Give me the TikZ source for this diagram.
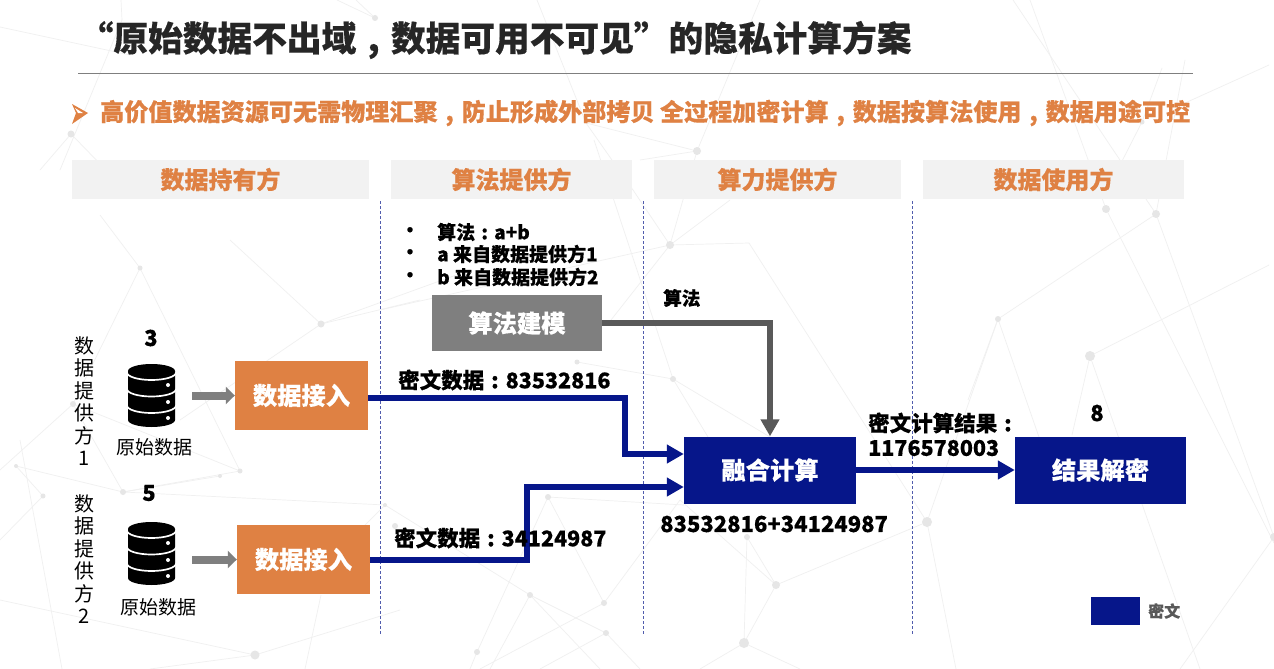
\documentclass[tikz,border=0pt]{standalone}
\usepackage{fontspec}
\setmainfont{Noto Sans CJK SC}[BoldFeatures={FakeBold=0.35}]
\usetikzlibrary{arrows.meta}
\definecolor{cblue}{HTML}{06168A}
\definecolor{corange}{HTML}{DF8143}
\definecolor{cgray}{HTML}{7F7F7F}
\definecolor{cdark}{HTML}{595959}
\definecolor{chead}{HTML}{F2F2F2}
\definecolor{cnet}{HTML}{F0F0F0}
\definecolor{cdot}{HTML}{E6E6E6}
\newcommand{\fs}[1]{\fontsize{#1}{#1}\selectfont}
\newcommand{\cc}{\makebox[1em]{:}}
\newcommand{\cm}{\makebox[1em]{,}}
\tikzset{
  box/.style={draw=none,minimum height=#1,inner sep=0pt,text=white,font=\fs{24.3}\bfseries},
  headbox/.style={fill=chead,inner sep=0pt,minimum height=39pt,text=corange,font=\fs{24}\bfseries},
  lab/.style={inner sep=0pt,font=\fs{21.5}\bfseries,anchor=west},
  reg/.style={inner sep=0pt,font=\fs{19}},
  num/.style={inner sep=0pt,font=\fs{22}\bfseries},
  vert/.style={inner sep=0pt,font=\fs{20},align=center},
  sep/.style={cblue!70,line width=0.6pt,densely dashed},
  flow/.style={cblue,line width=6pt,-{Triangle[length=17pt,width=18pt]}},
  algo/.style={cdark,line width=6pt,-{Triangle[length=17pt,width=18pt]}},
  feed/.style={cgray,line width=8pt,-{Triangle[length=9pt,width=17pt]}},
  netl/.style={cnet,line width=0.7pt},
  netd/.style={cdot,fill=cdot,draw=none},
  pics/dbstack/.style={code={
    \fill[black] (0,7) arc[x radius=23.5pt,y radius=7pt,start angle=180,end angle=0]
       -- (47,56) arc[x radius=23.5pt,y radius=7pt,start angle=0,end angle=-180] -- cycle;
    \foreach \yy in {8.5,25,41.5}{
      \draw[white,line width=1.7pt] (-1,\yy) arc[x radius=24.5pt,y radius=7.5pt,start angle=180,end angle=360];
    }
    \foreach \yy in {21,38,54}{ \fill[white] (40,\yy) circle (2pt); }
  }}
}
\begin{document}
\begin{tikzpicture}[x=1pt,y=-1pt]
\useasboundingbox (0,0) rectangle (1274,669);
\fill[white] (0,0) rectangle (1274,669);
% background network
\foreach \a/\b/\c/\d in {
 0/27/130/55, 121/0/122/20, 122/20/60/170, 375/18/337/0, 375/18/356/0, 71/134/108/172, 71/134/40/170,
 586/123/697/151, 586/123/633/190, 586/123/537/0, 697/151/760/0, 697/151/640/160,
 697/151/670/245, 670/245/633/190, 670/245/730/200, 670/245/611/320, 670/245/380/310, 670/245/749/243, 749/243/927/522,
 594/140/673/379, 577/362/673/379, 673/379/770/437, 673/379/708/437,
 321/324/230/240, 321/324/420/300, 321/324/470/270, 321/324/180/420,
 73/404/140/268, 73/404/0/470, 73/404/240/471, 140/268/240/471, 123/492/73/404, 140/268/100/215,
 16/466/123/492, 123/492/240/471, 220/476/123/492, 123/492/385/505, 43/496/0/540, 43/496/16/466, 20/440/62/669,
 385/505/530/595, 530/595/606/633, 606/633/640/669, 385/505/350/540,
 548/497/604/603, 604/603/680/500, 548/497/477/652, 548/497/684/505, 530/595/600/669, 606/633/540/669, 604/603/480/669, 477/652/470/669, 530/595/490/669,
 0/600/255/655, 321/595/305/669, 255/655/150/669, 255/655/400/610,
 776/585/747/537, 776/585/744/643, 747/537/744/643, 776/585/927/522, 744/643/700/669, 744/643/800/669, 776/585/680/500,
 927/522/956/669, 927/522/998/319,
 1013/0/1156/214, 1030/0/1106/209, 1106/209/1274/543, 1156/214/1274/537, 1156/214/998/319, 1185/60/1156/214,
 1090/356/1269/265, 998/319/1040/440, 1090/356/1072/435, 1090/356/1200/669, 1142/122/1120/165, 1142/122/1162/68, 1269/65/1185/103,
 998/319/968/400, 1274/537/1180/669}
  {\draw[netl] (\a,\b) -- (\c,\d);}
\foreach \a/\b/\r in {375/18/3, 71/134/3.5, 697/151/4, 670/245/4, 577/362/2.5, 673/379/3, 321/324/3.5, 73/404/3, 123/492/3, 16/466/2, 43/496/2.5, 220/476/2, 240/471/2.5, 385/505/2, 395/526/3,
  548/497/3, 530/595/3, 604/603/3, 606/633/3, 477/652/3, 927/522/5, 776/585/4, 744/643/5, 747/537/3, 1090/356/5, 998/319/3, 1106/209/4, 1156/214/4, 1142/122/2.5, 140/268/2.5, 255/655/4.5, 1274/537/4}
  {\fill[netd] (\a,\b) circle (\r pt);}
% title
\node[inner sep=0pt,anchor=west,font=\fs{34.7}\bfseries,text=black!85] (title) at (78.5,40) {“原始数据不出域\cm 数据可用不可见”的隐私计算方案};
\coordinate (rl) at (78,73.5); \coordinate (rr) at (1193,73.5);
\draw[cgray,line width=0.8pt] (rl) -- (rr);
% subtitle
\fill[corange] (72,104) -- (88,113) -- (72,124) -- (76,113) -- cycle;
\fill[white] (75,108) -- (83,113) -- (78,113) -- cycle;
\node[inner sep=0pt,anchor=west,font=\fs{24.1}\bfseries,text=corange] (sub) at (100,113) {高价值数据资源可无需物理汇聚\cm 防止形成外部拷贝 全过程加密计算\cm 数据按算法使用\cm 数据用途可控};
% headers
\node[headbox,minimum width=297pt] (h1) at (220.5,179.5) {数据持有方};
\node[headbox,minimum width=241pt] (h2) at (511.5,179.5) {算法提供方};
\node[headbox,minimum width=247pt] (h3) at (777.5,179.5) {算力提供方};
\node[headbox,minimum width=261pt] (h4) at (1053.5,179.5) {数据使用方};
% separators
\foreach \n/\x in {a/380,b/643,c/912}{
  \coordinate (s\n t) at (\x,201); \coordinate (s\n b) at (\x,635);
  \draw[sep] (s\n t) -- (s\n b);
}
% bullets
\foreach \n/\y/\t in {a/232/算法\cc a+b,b/254/a 来自数据提供方1,c/277/b 来自数据提供方2}{
  \node[inner sep=0pt,font=\fs{19}\bfseries] (bul\n) at (410,\y) {•};
  \node[lab,font=\fs{19}\bfseries] (blt\n) at (437,\y) {\t};
}
% boxes
\node[box=56pt,fill=cgray,minimum width=170pt] (model) at (517,323) {算法建模};
\node[box=69pt,fill=corange,minimum width=133pt] (in1) at (301.5,395.5) {数据接入};
\node[box=69pt,fill=corange,minimum width=133pt] (in2) at (303.5,559.5) {数据接入};
\node[box=67pt,fill=cblue,minimum width=172pt] (fuse) at (770,470) {融合计算};
\node[box=67pt,fill=cblue,minimum width=171pt] (res) at (1100.5,470) {结果解密};
% source column
\node[vert] (v1) at (84,401) {数\\[2.5pt]据\\[2.5pt]提\\[2.5pt]供\\[2.5pt]方\\[2.5pt]1};
\node[vert] (v2) at (84,559) {数\\[2.5pt]据\\[2.5pt]提\\[2.5pt]供\\[2.5pt]方\\[2.5pt]2};
\node[num] (n3) at (151,338) {3};
\node[num] (n5) at (149,493) {5};
\node[num] (n8) at (1097,413) {8};
\pic at (128,364) {dbstack};
\pic at (128,522) {dbstack};
\node[reg] (raw1) at (154,447) {原始数据};
\node[reg] (raw2) at (158,607) {原始数据};
\coordinate (d1) at (192,395.5); \coordinate (d2) at (192,559.5);
\draw[feed] (d1) -- (in1.west);
\draw[feed] (d2) -- (in2.west);
% flows
\draw[flow] (in1.east |- 0,398) -| (625,454) -- (fuse.west |- 0,454);
\draw[flow] (in2.east) -| (527,487) -- (fuse.west |- 0,487);
\draw[flow] (fuse.east) -- (res.west);
\draw[algo] (model.east) -| (fuse.north);
% labels
\node[lab] (c1) at (398,380) {密文数据\cc 83532816};
\node[lab] (c2) at (394,538) {密文数据\cc 34124987};
\node[lab,font=\fs{18.6}\bfseries] (alg) at (663,298) {算法};
\node[lab,font=\fs{22}\bfseries] (sum) at (660,524) {83532816+34124987};
\node[lab] (cr) at (868,423) {密文计算结果\cc};
\node[lab] (crv) at (868,448) {1176578003};
% legend
\node[fill=cblue,minimum width=49pt,minimum height=28pt,inner sep=0pt] (leg) at (1115.5,611) {};
\node[lab,font=\fs{16}\bfseries,text=cdark] (legt) at (1148,611) {密文};
\end{tikzpicture}
\end{document}
